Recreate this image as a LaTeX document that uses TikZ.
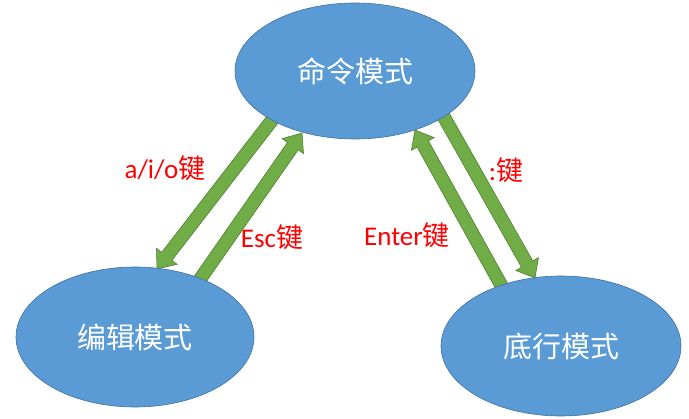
\documentclass[tikz,border=0pt]{standalone}
\usepackage{fontspec}
\setmainfont{Carlito}
\newfontfamily\cjk{Noto Sans CJK SC}
\usetikzlibrary{calc,shapes.geometric}
\definecolor{ellfill}{HTML}{5B9BD5}
\definecolor{elldraw}{HTML}{41719C}
\definecolor{arrfill}{HTML}{70AD47}
\definecolor{arrdraw}{HTML}{507E32}
\tikzset{
  mode/.style={ellipse, fill=ellfill, draw=elldraw, line width=0.6pt,
    minimum width=#1, text=white, font=\cjk\fontsize{29}{32}\selectfont},
  blockarr/.style={fill=arrfill, draw=arrdraw, line width=0.6pt, line join=miter},
  keylabel/.style={text=red, font=\fontsize{27}{30}\selectfont, inner sep=0pt}
}
\newcommand\blockarrow[2]{%
  \coordinate (bt) at ($(#2)!16pt!(#1)$);
  \filldraw[blockarr] ($(#1)!6.5pt!90:(#2)$) -- ($(bt)!6.5pt!-90:(#1)$)
    -- ($(bt)!13pt!-90:(#1)$) -- (#2) -- ($(bt)!13pt!90:(#1)$)
    -- ($(bt)!6.5pt!90:(#1)$) -- ($(#1)!6.5pt!-90:(#2)$) -- cycle;
}
\begin{document}
\begin{tikzpicture}[x=1pt,y=-1pt]
\useasboundingbox (0,0) rectangle (689,419);
% arrow end points
\coordinate (aioT) at (276,115);
\coordinate (aioH) at (157,269);
\coordinate (escT) at (196,285);
\coordinate (escH) at (302,133);
\coordinate (colT) at (440,110);
\coordinate (colH) at (535,278);
\coordinate (entT) at (505,292);
\coordinate (entH) at (415,130);
\blockarrow{aioT}{aioH}
\blockarrow{escT}{escH}
\blockarrow{colT}{colH}
\blockarrow{entT}{entH}
% modes
\node[mode=240pt, minimum height=136pt] (cmd) at (355,71) {命令模式};
\node[mode=238pt, minimum height=140pt] (edit) at (135,337) {编辑模式};
\node[mode=240pt, minimum height=140pt] (last) at (561,346) {底行模式};
% labels
\node[keylabel] (laio) at (165,168) {a/i/o{\cjk 键}};
\node[keylabel] (lesc) at (272,237) {Esc{\cjk 键}};
\node[keylabel] (lent) at (407,235) {Enter{\cjk 键}};
\node[keylabel] (lcol) at (506,170) {:{\cjk 键}};
\end{tikzpicture}
\end{document}
